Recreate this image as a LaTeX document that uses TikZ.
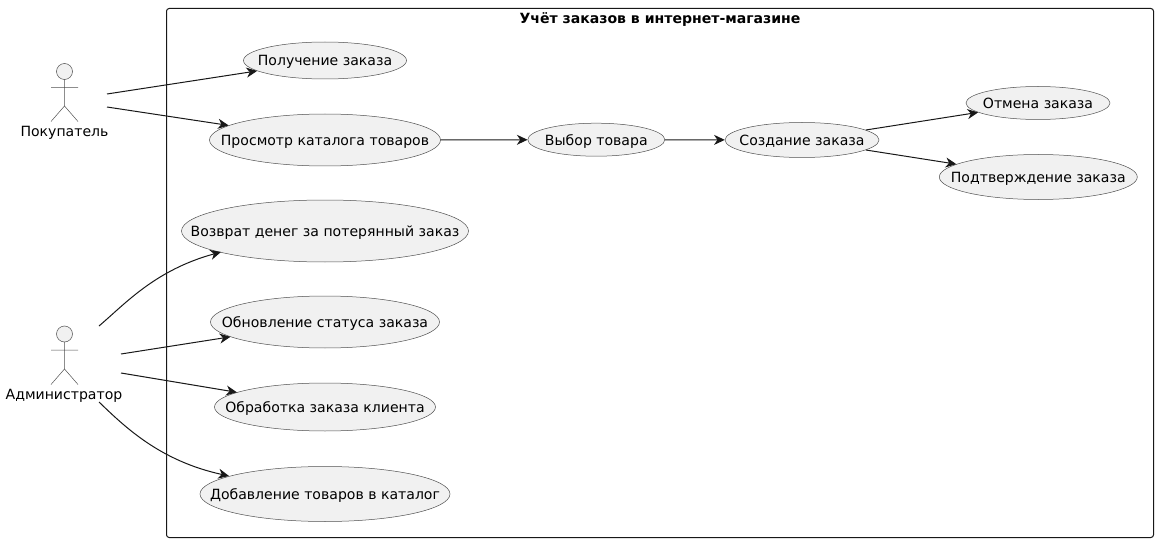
\documentclass[tikz,border=0pt]{standalone}
\usepackage{fontspec}
\setmainfont{DejaVu Sans}
\usetikzlibrary{shapes.geometric,arrows.meta}
\definecolor{ucfill}{HTML}{F1F1F1}
\definecolor{ucline}{HTML}{181818}
\definecolor{thinline}{HTML}{505050}
\tikzset{x=0.75pt,y=-0.75pt,
 usecase/.style={ellipse,draw=thinline,fill=ucfill,line width=0.375pt,inner sep=0pt,text=black,font=\fontsize{10.55pt}{12pt}\selectfont},
 actorlabel/.style={inner sep=0pt,text=black,font=\fontsize{10.55pt}{12pt}\selectfont},
 actorline/.style={draw=thinline,line width=0.375pt},
 conn/.style={draw=ucline,line width=0.75pt,-{Stealth[length=8pt,width=7.5pt,inset=2.5pt]}}}
\newcommand{\uc}[6]{\node[usecase,minimum width=#3*0.75pt,minimum height=#4*0.75pt] (#1) at (#2) {\makebox[0pt]{\smash{\raisebox{-4pt}{#5}}}};}
\begin{document}
\begin{tikzpicture}
\useasboundingbox (0,0) rectangle (1158,542);
\draw[draw=ucline,line width=0.75pt,rounded corners=2pt] (166.5,8.5) rectangle (1153.5,537.5);
\node[inner sep=0pt,font=\fontsize{10.55pt}{12pt}\selectfont\bfseries] (title) at (660,20) {Учёт заказов в интернет-магазине};
\uc{a}{325,60.5}{163}{37}{Получение заказа}{}
\uc{b}{325,140}{231}{52}{Просмотр каталога товаров}{}
\uc{c}{596.3,139.7}{137}{33}{Выбор товара}{}
\uc{d}{802,140}{154}{35}{Создание заказа}{}
\uc{e}{1038,103}{144}{33}{Отмена заказа}{}
\uc{f}{1038.3,177}{198}{45}{Подтверждение заказа}{}
\uc{g}{325,231}{287}{62}{Возврат денег за потерянный заказ}{}
\uc{h}{325,322}{229}{52}{Обновление статуса заказа}{}
\uc{i}{325,407}{221}{48}{Обработка заказа клиента}{}
\uc{j}{325,494}{250}{55}{Добавление товаров в каталог}{}
% actors
\draw[actorline,fill=ucfill] (64.5,71.5) circle[radius=8];
\draw[actorline] (64.5,79.5) -- (64.5,106) (51,87.5) -- (78,87.5) (51,121.5) -- (64.5,106) -- (78,121.5);
\node[actorlabel] (buyer) at (64.5,133) {Покупатель};
\draw[actorline,fill=ucfill] (64.5,334) circle[radius=8];
\draw[actorline] (64.5,342) -- (64.5,369) (51,350) -- (78,350) (51,384.5) -- (64.5,369) -- (78,384.5);
\node[actorlabel] (admin) at (64,396) {Администратор};
\coordinate (b1) at (107,94);
\coordinate (b2) at (107,107);
\coordinate (a1) at (99,326);
\coordinate (a2) at (121,354);
\coordinate (a3) at (121,373);
\coordinate (a4) at (99,402);
\draw[conn] (b1) -- (a);
\draw[conn] (b2) -- (b);
\draw[conn] (b) -- (c);
\draw[conn] (c) -- (d);
\draw[conn] (d) -- (e);
\draw[conn] (d) -- (f);
\draw[conn] (a1) .. controls (125,304) and (155,270) .. (221,252);
\draw[conn] (a2) -- (h);
\draw[conn] (a3) -- (i);
\draw[conn] (a4) .. controls (125,427) and (160,461) .. (229,476);
\end{tikzpicture}
\end{document}
